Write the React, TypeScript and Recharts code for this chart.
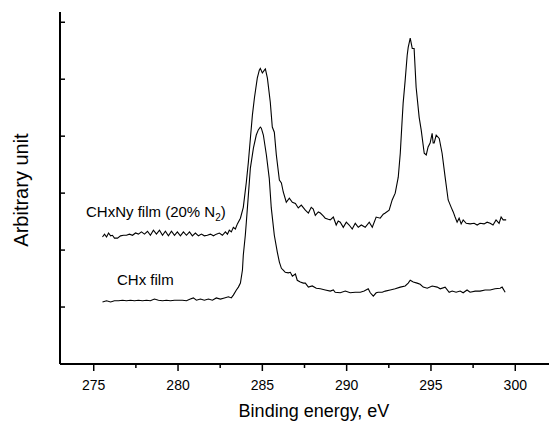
import React from "react";
import { LineChart, Line, XAxis, YAxis } from "recharts";

// Binding energy (eV) and intensity (arbitrary unit) for CHxNy film (20% N2)
const cnxEnergy = [
  275.52, 275.64, 275.76, 275.88, 276.0, 276.11, 276.23, 276.41, 276.59, 276.77,
  276.94, 277.12, 277.3, 277.48, 277.65, 277.83, 278.01, 278.19, 278.36, 278.54,
  278.72, 278.9, 279.08, 279.25, 279.43, 279.61, 279.79, 279.96, 280.14, 280.32,
  280.5, 280.68, 280.85, 281.03, 281.21, 281.39, 281.56, 281.74, 281.92, 282.1,
  282.27, 282.45, 282.63, 282.81, 282.93, 283.04, 283.16, 283.28, 283.4, 283.52,
  283.7, 283.87, 284.05, 284.17, 284.29, 284.41, 284.53, 284.7, 284.82, 284.88,
  285.0, 285.12, 285.18, 285.3, 285.47, 285.59, 285.71, 285.83, 286.01, 286.13,
  286.24, 286.42, 286.6, 286.78, 286.96, 287.13, 287.31, 287.55, 287.73, 287.9,
  288.02, 288.14, 288.32, 288.44, 288.61, 288.73, 288.91, 289.03, 289.21, 289.38,
  289.5, 289.62, 289.8, 289.98, 290.15, 290.33, 290.51, 290.69, 290.87, 291.1,
  291.34, 291.52, 291.75, 291.99, 292.17, 292.29, 292.52, 292.7, 292.88, 293.06,
  293.18, 293.29, 293.35, 293.47, 293.59, 293.65, 293.77, 293.89, 294.0, 294.12,
  294.3, 294.42, 294.6, 294.72, 294.83, 294.95, 295.07, 295.13, 295.19, 295.31,
  295.49, 295.66, 295.84, 296.02, 296.2, 296.32, 296.43, 296.55, 296.67, 296.79,
  296.91, 297.09, 297.32, 297.56, 297.74, 297.91, 298.15, 298.33, 298.51, 298.68,
  298.86, 299.04, 299.16, 299.28, 299.46,
];
const cnxIntensity = [
  2.23, 2.28, 2.23, 2.3, 2.25, 2.26, 2.21, 2.21, 2.25, 2.26,
  2.26, 2.28, 2.26, 2.3, 2.28, 2.32, 2.28, 2.33, 2.26, 2.35,
  2.28, 2.35, 2.26, 2.33, 2.25, 2.33, 2.26, 2.32, 2.25, 2.32,
  2.26, 2.32, 2.25, 2.3, 2.25, 2.28, 2.25, 2.26, 2.28, 2.25,
  2.28, 2.3, 2.26, 2.32, 2.28, 2.35, 2.32, 2.4, 2.37, 2.46,
  2.56, 2.75, 3.19, 3.54, 3.96, 4.37, 4.67, 5.02, 5.16, 5.19,
  5.11, 5.16, 5.18, 5.02, 4.6, 4.16, 4.07, 3.67, 3.23, 3.18,
  3.02, 2.84, 2.91, 2.84, 2.82, 2.74, 2.79, 2.7, 2.65, 2.75,
  2.72, 2.61, 2.67, 2.65, 2.6, 2.56, 2.54, 2.53, 2.58, 2.44,
  2.51, 2.49, 2.4, 2.49, 2.44, 2.37, 2.47, 2.4, 2.44, 2.4,
  2.49, 2.4, 2.58, 2.56, 2.63, 2.65, 2.7, 2.88, 3.0, 3.28,
  3.7, 4.28, 4.58, 4.98, 5.42, 5.56, 5.72, 5.54, 5.54, 4.86,
  4.33, 4.11, 3.7, 3.67, 3.81, 3.88, 4.05, 3.88, 3.88, 4.02,
  3.96, 3.7, 3.28, 2.88, 2.75, 2.67, 2.58, 2.49, 2.56, 2.46,
  2.53, 2.47, 2.46, 2.47, 2.44, 2.47, 2.46, 2.49, 2.47, 2.44,
  2.53, 2.47, 2.58, 2.53, 2.53,
];

// Binding energy (eV) and intensity (arbitrary unit) for CHx film
const chxEnergy = [
  275.52, 275.76, 276.0, 276.23, 276.47, 276.71, 276.94, 277.18, 277.42, 277.65,
  277.89, 278.13, 278.36, 278.6, 278.84, 279.08, 279.31, 279.55, 279.79, 280.02,
  280.26, 280.5, 280.73, 280.91, 281.09, 281.33, 281.56, 281.8, 282.04, 282.27,
  282.51, 282.75, 282.99, 283.16, 283.28, 283.46, 283.58, 283.7, 283.82, 283.87,
  283.99, 284.05, 284.17, 284.29, 284.47, 284.64, 284.76, 284.88, 284.94, 285.06,
  285.24, 285.41, 285.53, 285.71, 285.89, 286.01, 286.13, 286.24, 286.36, 286.54,
  286.66, 286.78, 286.96, 287.07, 287.25, 287.43, 287.55, 287.73, 287.96, 288.2,
  288.44, 288.73, 289.03, 289.21, 289.32, 289.62, 289.92, 290.21, 290.51, 290.81,
  291.04, 291.28, 291.4, 291.58, 291.75, 291.87, 292.11, 292.29, 292.58, 292.88,
  293.18, 293.47, 293.65, 293.77, 293.95, 294.18, 294.36, 294.54, 294.78, 295.07,
  295.37, 295.55, 295.84, 296.08, 296.26, 296.49, 296.73, 296.91, 297.14, 297.32,
  297.62, 297.91, 298.21, 298.51, 298.8, 299.1, 299.22, 299.4,
];
const chxIntensity = [
  1.09, 1.11, 1.09, 1.11, 1.11, 1.12, 1.11, 1.12, 1.11, 1.12,
  1.11, 1.12, 1.11, 1.14, 1.12, 1.11, 1.12, 1.11, 1.12, 1.12,
  1.12, 1.11, 1.14, 1.16, 1.12, 1.14, 1.12, 1.14, 1.12, 1.16,
  1.14, 1.16, 1.18, 1.16, 1.21, 1.3, 1.35, 1.42, 1.65, 1.91,
  2.26, 2.49, 2.96, 3.44, 3.79, 4.02, 4.11, 4.16, 4.14, 4.02,
  3.67, 3.26, 2.74, 2.26, 1.96, 1.79, 1.68, 1.65, 1.61, 1.6,
  1.61, 1.54, 1.58, 1.47, 1.44, 1.42, 1.42, 1.35, 1.37, 1.33,
  1.32, 1.3, 1.28, 1.3, 1.26, 1.25, 1.28, 1.25, 1.26, 1.26,
  1.28, 1.32, 1.25, 1.19, 1.25, 1.26, 1.26, 1.28, 1.3, 1.32,
  1.35, 1.37, 1.42, 1.47, 1.44, 1.42, 1.4, 1.35, 1.33, 1.37,
  1.35, 1.32, 1.35, 1.26, 1.28, 1.26, 1.28, 1.25, 1.3, 1.26,
  1.28, 1.28, 1.3, 1.3, 1.32, 1.33, 1.35, 1.26,
];

const xTicks = [275, 277.5, 280, 282.5, 285, 287.5, 290, 292.5, 295, 297.5, 300];
const xLabelTicks = [275, 280, 285, 290, 295, 300];
const yTicks = [1, 2, 3, 4, 5, 6];

const seriesLabels = {
  cnx: "CHxNy film (20% N",
  chx: "CHx film",
};
const xTitle = "Binding energy, eV";
const yTitle = "Arbitrary unit";

const cnxData = cnxEnergy.map((e, i) => ({ e, v: cnxIntensity[i] }));
const chxData = chxEnergy.map((e, i) => ({ e, v: chxIntensity[i] }));

const FONT = "'Liberation Sans', Arial, sans-serif";

const XTick = (props: any) => {
  const { x, y, payload } = props;
  const major = xLabelTicks.includes(payload.value);
  return (
    <g>
      <line x1={x} x2={x} y1={y} y2={y + (major ? 7 : 4)} stroke="#000" strokeWidth={1.5} />
      {major && (
        <text x={x} y={y + 26} textAnchor="middle" fontSize={14} fontFamily={FONT} fill="#000">
          {payload.value}
        </text>
      )}
    </g>
  );
};

const YTick = (props: any) => {
  const { x, y } = props;
  return <line x1={x} x2={x + 5} y1={y} y2={y} stroke="#000" strokeWidth={1.5} />;
};

export default function App() {
  return (
    <div style={{ position: "absolute", left: 0, top: 0, width: 550, height: 424, background: "#fff" }}>
      <LineChart
        width={550}
        height={424}
        margin={{ top: 12, right: 1, bottom: 0, left: 0 }}
      >
        <XAxis
          dataKey="e"
          type="number"
          domain={[273, 302]}
          ticks={xTicks}
          interval={0}
          allowDataOverflow
          height={60}
          tickSize={0}
          tickMargin={0}
          tickLine={false}
          axisLine={{ stroke: "#000", strokeWidth: 2 }}
          tick={<XTick />}
        />
        <YAxis
          type="number"
          domain={[0, 6.18]}
          ticks={yTicks}
          interval={0}
          allowDataOverflow
          width={60}
          tickSize={0}
          tickMargin={0}
          tickLine={false}
          axisLine={{ stroke: "#000", strokeWidth: 2 }}
          tick={<YTick />}
        />
        <Line data={cnxData} dataKey="v" type="linear" stroke="#000" strokeWidth={1.1} dot={false} isAnimationActive={false} />
        <Line data={chxData} dataKey="v" type="linear" stroke="#000" strokeWidth={1.1} dot={false} isAnimationActive={false} />
      </LineChart>
      <svg width={550} height={424} style={{ position: "absolute", left: 0, top: 0, pointerEvents: "none" }}>
        <text x={314} y={417} textAnchor="middle" fontSize={18} fontFamily={FONT} fill="#000">
          {xTitle}
        </text>
        <text
          x={28}
          y={190}
          textAnchor="middle"
          fontSize={20}
          fontFamily={FONT}
          fill="#000"
          transform="rotate(-90 28 190)"
        >
          {yTitle}
        </text>
        <text x={86} y={217} fontSize={15} fontFamily={FONT} fill="#000">
          {seriesLabels.cnx}
          <tspan fontSize={10} dy={4}>2</tspan>
          <tspan dy={-4}>)</tspan>
        </text>
        <text x={117} y={285} fontSize={15} fontFamily={FONT} fill="#000">
          {seriesLabels.chx}
        </text>
      </svg>
    </div>
  );
}
